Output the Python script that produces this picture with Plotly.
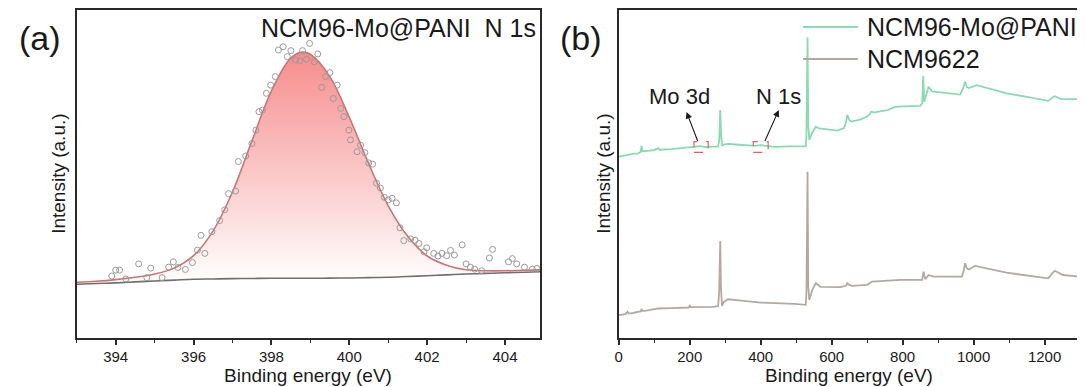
import plotly.graph_objects as go

W, H = 1085, 387
OFF = 8  # page body margin in the browser

# ---------------- panel (a): N 1s high-resolution ----------------
n1s_x = [393.9, 394.0, 394.1, 394.26, 394.59, 394.8, 394.9, 395.19, 395.36, 395.48,
         395.6, 395.79, 395.97, 396.1, 396.19, 396.29, 396.47, 396.67, 396.8, 396.9,
         397.08, 397.15, 397.34, 397.5, 397.6, 397.68, 397.77, 397.87, 397.98, 398.1,
         398.18, 398.3, 398.41, 398.5, 398.62, 398.73, 398.8, 398.9, 398.98, 399.1,
         399.19, 399.29, 399.39, 399.5, 399.59, 399.69, 399.78, 399.86, 399.99, 400.03,
         400.2, 400.29, 400.4, 400.5, 400.6, 400.7, 400.8, 400.9, 401.0, 401.1,
         401.21, 401.3, 401.4, 401.58, 401.69, 401.79, 401.92, 401.99, 402.17, 402.28,
         402.38, 402.5, 402.6, 402.7, 402.9, 403.0, 403.11, 403.22, 403.4, 403.6,
         403.68, 404.09, 404.19, 404.3, 404.5, 404.7, 404.82]
n1s_y = [18.9, 20.7, 20.7, 18.0, 22.6, 18.4, 21.3, 18.4, 21.6, 23.2,
         21.5, 20.9, 23.0, 26.8, 31.3, 25.8, 32.4, 35.8, 39.1, 44.0,
         44.8, 53.8, 55.5, 59.3, 63.4, 69.0, 69.5, 74.6, 77.1, 79.7,
         87.8, 88.8, 85.8, 87.6, 84.8, 84.5, 87.6, 85.0, 89.8, 84.2,
         86.6, 76.4, 79.7, 80.9, 73.0, 77.1, 70.0, 67.5, 63.4, 60.4,
         56.8, 58.8, 56.5, 53.4, 53.0, 47.2, 45.7, 42.9, 42.1, 42.6,
         41.2, 33.6, 29.7, 30.2, 29.8, 28.8, 26.3, 27.5, 25.8, 25.0,
         25.8, 25.1, 26.7, 25.3, 28.4, 22.6, 21.6, 21.0, 20.5, 24.4,
         27.0, 23.2, 24.2, 22.6, 21.6, 21.0, 21.2]

fit_x = [393.0, 393.5, 394.0, 394.5, 395.0, 395.5, 396.0, 396.5, 397.0, 397.5,
         398.0, 398.5, 398.8, 399.0, 399.5, 400.0, 400.5, 401.0, 401.5, 402.0,
         402.5, 403.0, 403.5, 404.0, 404.5, 405.0]
fit_y = [17.0, 17.3, 17.8, 18.5, 19.5, 21.3, 25.1, 32.6, 44.5, 60.1,
         75.3, 85.4, 87.2, 86.5, 79.7, 67.3, 53.1, 40.3, 31.0, 25.0,
         22.2, 20.8, 20.5, 20.5, 20.65, 20.8]
base_y = [16.4, 16.6, 16.8, 17.1, 17.4, 17.65, 17.9, 18.0, 18.1, 18.15,
          18.2, 18.2, 18.2, 18.2, 18.25, 18.3, 18.4, 18.5, 18.75, 19.0,
          19.25, 19.5, 19.7, 19.9, 20.05, 20.2]

# ---------------- panel (b): survey spectra ----------------
pani_e = [0, 10, 22, 32, 45, 55, 62, 64, 67, 75, 100, 111, 115, 150, 167, 200, 214, 230,
          245, 270, 280, 283, 286, 289, 292, 296, 308, 330, 383, 400, 439, 480, 527, 529,
          532, 534, 537, 545, 555, 565, 590, 616, 635, 641, 644, 650, 655, 680, 700, 708,
          711, 720, 757, 780, 800, 850, 855, 858, 861, 864, 868, 873, 883, 920, 962, 970,
          976, 981, 987, 1009, 1050, 1093, 1150, 1210, 1220, 1229, 1247, 1300]
pani_i = [55.3, 55.5, 55.9, 56.1, 56.2, 56.3, 56.8, 58.6, 56.9, 57.0, 57.3, 57.9, 57.4, 57.6,
          57.8, 58.0, 58.2, 58.5, 58.2, 58.3, 58.4, 60.0, 69.5, 61.0, 58.6, 59.0, 59.2, 59.0,
          58.6, 58.8, 58.3, 58.4, 58.4, 62.0, 91.7, 65.0, 60.4, 62.5, 64.4, 63.9, 63.6, 63.2,
          64.0, 66.0, 68.0, 66.5, 66.0, 66.6, 67.5, 68.3, 69.0, 68.8, 69.5, 70.5, 70.6, 70.8,
          71.5, 79.9, 72.0, 73.1, 75.0, 76.6, 75.2, 74.8, 74.2, 76.0, 78.2, 76.5, 76.2, 77.1,
          75.9, 74.6, 73.5, 72.3, 73.2, 73.7, 72.8, 72.8]

ncm_e = [0, 18, 22, 25, 28, 36, 55, 62, 64, 67, 74, 111, 150, 197, 200, 203, 265, 280, 283,
         286, 288, 289, 291, 296, 308, 345, 401, 495, 527, 529, 532, 534, 537, 545, 555, 569,
         625, 641, 644, 650, 658, 700, 714, 794, 855, 859, 862, 864, 873, 887, 967, 972, 976,
         981, 987, 1004, 1093, 1210, 1222, 1229, 1252, 1300]
ncm_i = [7.0, 7.3, 7.6, 8.0, 7.5, 7.5, 8.0, 8.1, 8.8, 8.3, 8.3, 9.0, 9.1, 9.3, 9.8, 9.4, 9.5,
         9.7, 14.0, 29.6, 15.5, 12.0, 9.8, 11.0, 11.8, 11.4, 10.8, 10.4, 10.1, 14.0, 50.7, 16.0,
         11.6, 14.5, 16.7, 15.6, 15.5, 16.0, 16.7, 16.2, 15.9, 16.2, 17.2, 17.7, 17.7, 20.2,
         18.0, 17.9, 19.2, 18.7, 18.7, 20.5, 22.8, 21.2, 20.9, 22.0, 19.9, 18.2, 19.8, 20.5,
         19.2, 18.7]

series_names = ["NCM96-Mo@PANI", "NCM9622"]
green = "#8adab3"
brown = "#b3a9a1"

FONT = "Liberation Sans, Arial, sans-serif"
AX = "#2a2a2a"

fig = go.Figure()

fig.add_trace(go.Scatter(x=fit_x, y=base_y, mode="lines", line=dict(color="#6f6f6f", width=1.6, shape="spline"),
                         showlegend=False, xaxis="x", yaxis="y"))
fig.add_trace(go.Scatter(x=fit_x, y=fit_y, mode="lines", line=dict(color="#c97575", width=1.6, shape="spline"),
                         fill="tonexty",
                         fillgradient=dict(type="vertical",
                                           colorscale=[[0, "rgba(255,255,255,1)"], [1, "rgba(246,140,140,1)"]]),
                         showlegend=False, xaxis="x", yaxis="y"))
fig.add_trace(go.Scatter(x=n1s_x, y=n1s_y, mode="markers",
                         marker=dict(symbol="circle-open", size=6, color="#9a9a9a", line=dict(width=1)),
                         showlegend=False, xaxis="x", yaxis="y"))

fig.add_trace(go.Scatter(x=ncm_e, y=ncm_i, mode="lines", line=dict(color=brown, width=1.8),
                         name=series_names[1], showlegend=False, xaxis="x2", yaxis="y2"))
fig.add_trace(go.Scatter(x=pani_e, y=pani_i, mode="lines", line=dict(color=green, width=1.8),
                         name=series_names[0], showlegend=False, xaxis="x2", yaxis="y2"))

def px(xp):
    return (xp - OFF) / W

def py(yp):
    return 1 - (yp - OFF) / H

ax_common = dict(showline=True, mirror=True, linecolor=AX, linewidth=1.5, showgrid=False, zeroline=False)

fig.update_layout(
    width=W, height=H,
    margin=dict(l=0, r=0, t=0, b=0),
    paper_bgcolor="white", plot_bgcolor="white",
    font=dict(family=FONT, color="#1a1a1a"),
    xaxis=dict(domain=[px(73), px(538)], range=[393, 404.9], anchor="y",
               tickmode="linear", tick0=394, dtick=2, ticks="outside", ticklen=5, tickwidth=1.5, tickcolor=AX,
               minor=dict(ticks="outside", ticklen=3, tickwidth=1.2, tickcolor=AX, dtick=1, tick0=393),
               ticklabelstandoff=-1,
               tickfont=dict(size=15, family=FONT, color="#1a1a1a"), **ax_common),
    yaxis=dict(domain=[py(338), py(10)], range=[0, 100], anchor="x", showticklabels=False, ticks="",
               **ax_common),
    xaxis2=dict(domain=[px(617), px(1080)], range=[0, 1300], anchor="y2",
                tickmode="linear", tick0=0, dtick=200, ticks="outside", ticklen=5, tickwidth=1.5, tickcolor=AX,
                minor=dict(ticks="outside", ticklen=3, tickwidth=1.2, tickcolor=AX, dtick=100),
                ticklabelstandoff=-1,
                tickfont=dict(size=15, family=FONT, color="#1a1a1a"), **ax_common),
    yaxis2=dict(domain=[py(338), py(10)], range=[0, 100], anchor="x2", showticklabels=False, ticks="",
                **ax_common),
)

ann = []
def add_text(text, xp, yp, size, angle=0, xanchor="center", yanchor="middle"):
    ann.append(dict(text=text, x=px(xp), y=py(yp), xref="paper", yref="paper", showarrow=False,
                    font=dict(size=size, family=FONT, color="#1a1a1a"), textangle=angle,
                    xanchor=xanchor, yanchor=yanchor))

add_text("(a)", 36, 38, 34)
add_text("(b)", 579, 38, 34)
add_text("NCM96-Mo@PANI\u00a0\u00a0N 1s", 536, 28, 25, xanchor="right")
add_text("Binding energy (eV)", 305, 375, 19)
add_text("Binding energy (eV)", 848, 375, 19)
add_text("Intensity (a.u.)", 55, 174, 19, angle=-90)
add_text("Intensity (a.u.)", 602, 174, 19, angle=-90)
add_text(series_names[0], 864, 27, 25, xanchor="left")
add_text(series_names[1], 864, 59, 25, xanchor="left")

ann.append(dict(text="Mo 3d", x=172, y=73.5, xref="x2", yref="y2", showarrow=False,
                font=dict(size=22, family=FONT, color="#1a1a1a")))
ann.append(dict(text="N 1s", x=450, y=73.5, xref="x2", yref="y2", showarrow=False,
                font=dict(size=22, family=FONT, color="#1a1a1a")))
ann.append(dict(text="", x=191, y=68.9, ax=224, ay=59.6, xref="x2", yref="y2", axref="x2", ayref="y2",
                showarrow=True, arrowhead=2, arrowsize=1.2, arrowwidth=1.1, arrowcolor="#1a1a1a"))
ann.append(dict(text="", x=451, y=69.5, ax=410, ay=59.6, xref="x2", yref="y2", axref="x2", ayref="y2",
                showarrow=True, arrowhead=2, arrowsize=1.2, arrowwidth=1.1, arrowcolor="#1a1a1a"))
fig.update_layout(annotations=ann)

shapes = [
    dict(type="rect", xref="x2", yref="y2", x0=212, x1=252, y0=56.6, y1=59.9,
         line=dict(color="#e06060", width=1.2, dash="dash")),
    dict(type="rect", xref="x2", yref="y2", x0=379, x1=421, y0=56.6, y1=59.9,
         line=dict(color="#e06060", width=1.2, dash="dash")),
    dict(type="line", xref="paper", yref="paper", x0=px(802), x1=px(857), y0=py(27), y1=py(27),
         line=dict(color=green, width=1.8)),
    dict(type="line", xref="paper", yref="paper", x0=px(802), x1=px(857), y0=py(59), y1=py(59),
         line=dict(color=brown, width=1.8)),
]
fig.update_layout(shapes=shapes)

fig.write_html("out.html")
